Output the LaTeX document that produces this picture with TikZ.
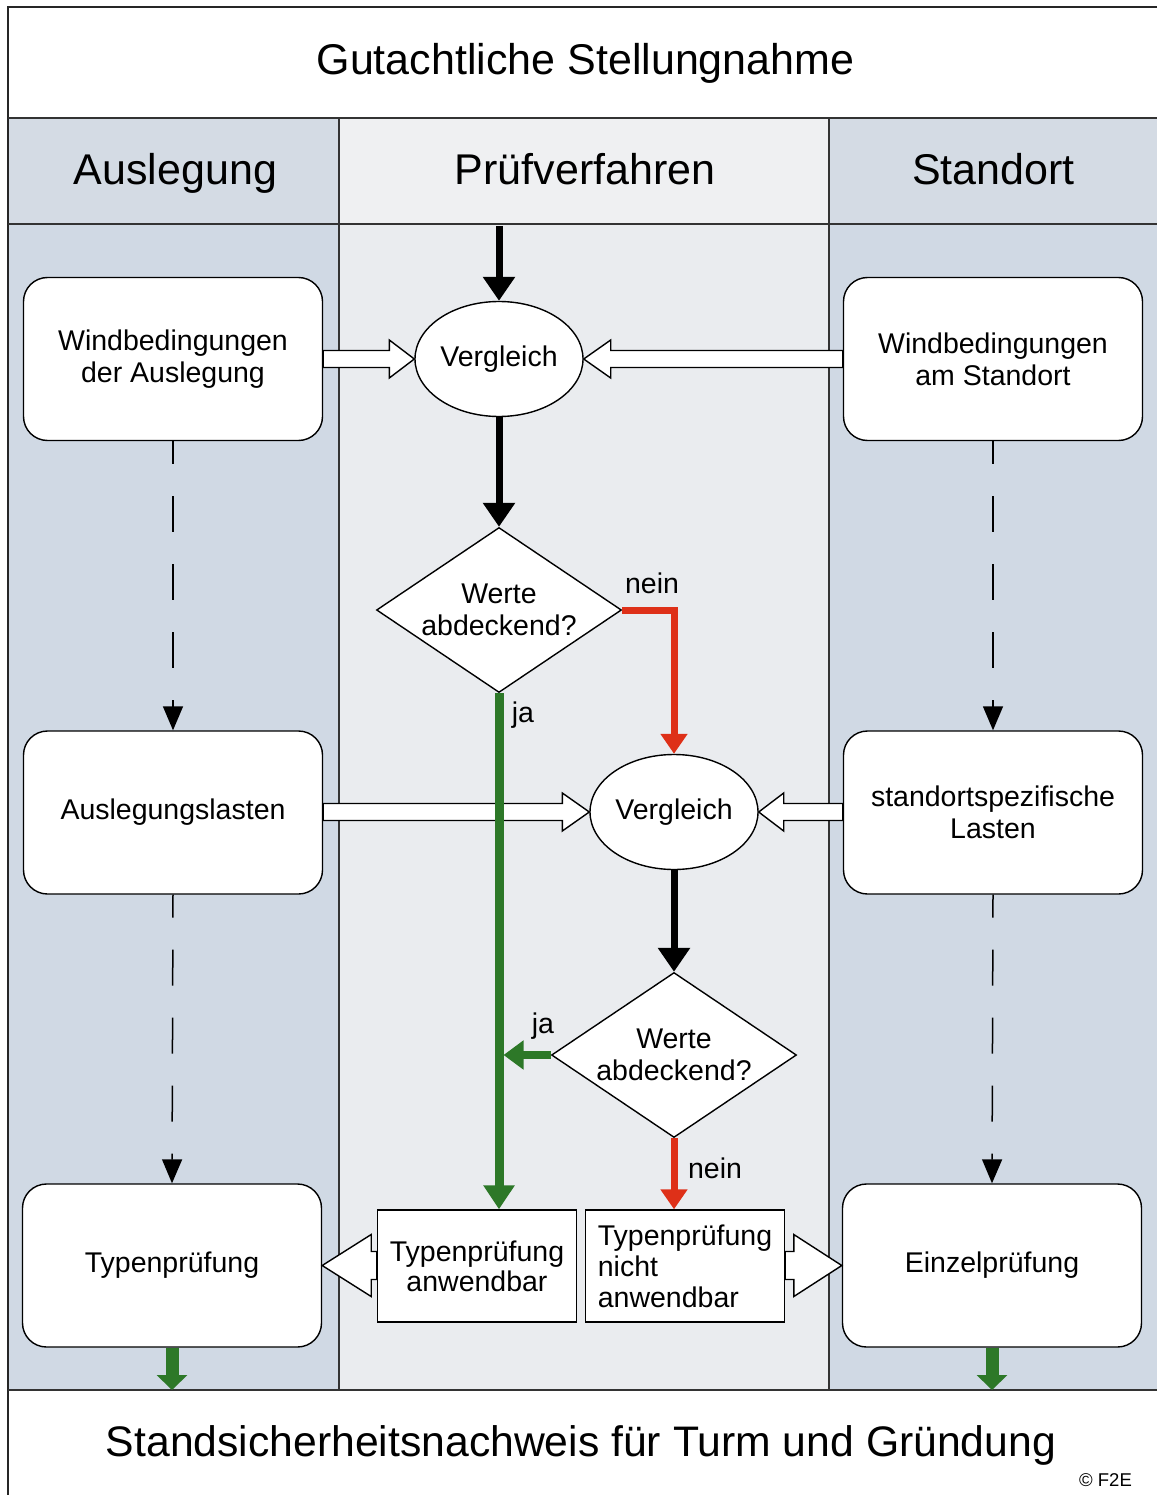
\documentclass[tikz,border=0pt]{standalone}
\usepackage{fontspec}
\setmainfont{Liberation Sans}
\usetikzlibrary{shapes.geometric,arrows.meta,calc}
\definecolor{sidebg}{RGB}{208,217,228}
\definecolor{midbg}{RGB}{234,236,239}
\definecolor{hdrside}{RGB}{212,219,228}
\definecolor{hdrmid}{RGB}{239,240,242}
\definecolor{okgreen}{RGB}{45,120,40}
\definecolor{nored}{RGB}{222,48,24}
% #1 start, #2 tip, #3 shaft half height, #4 head half height, #5 head base offset from tip (signed)
\newcommand{\blockarrow}[5]{%
  \draw[blockst] let \p1=(#1), \p2=(#2), \n1={\x2+(#5)} in
    ({\x1},{\y2+#3}) -- ({\n1},{\y2+#3}) -- ({\n1},{\y2+#4}) -- (\x2,\y2)
    -- ({\n1},{\y2-#4}) -- ({\n1},{\y2-#3}) -- ({\x1},{\y2-#3}) -- cycle;}
\begin{document}
\begin{tikzpicture}[x=1pt,y=-1pt,
  txt/.style={font=\fontsize{28.5}{32}\selectfont},
  box/.style={txt, draw, line width=1.4pt, fill=white, rounded corners=24pt,
    minimum width=299pt, minimum height=163pt, inner sep=0pt, align=center},
  cmp/.style={txt, ellipse, draw, line width=1.4pt, fill=white,
    minimum width=168pt, minimum height=115pt, inner sep=0pt},
  dec/.style={txt, diamond, draw, line width=1.4pt, fill=white, aspect=1.485,
    minimum width=245pt, minimum height=165pt, inner sep=0pt, align=center},
  rbox/.style={txt, draw, line width=1.4pt, fill=white,
    minimum width=199pt, minimum height=112pt, inner sep=0pt},
  hd/.style={font=\fontsize{43}{48}\selectfont, anchor=base, inner sep=0pt},
  lbl/.style={txt, anchor=base, inner sep=0pt},
  frame/.style={line width=2pt, black!85},
  divider/.style={line width=1.5pt, black!80},
  blockst/.style={draw, line width=1.4pt, fill=white, line join=miter},
  blk/.style={line width=7pt, -{Triangle[length=24pt,width=31pt]}},
  grn/.style={okgreen, line width=9pt, -{Triangle[length=24pt,width=30pt]}},
  grnfat/.style={okgreen, line width=13pt, -{Triangle[length=15pt,width=30pt]}},
  nogo/.style={nored, line width=7pt, -{Triangle[length=20pt,width=26pt]}},
  dashln/.style={line width=1.5pt, dash pattern=on 36pt off 32pt, dash phase=13pt,
    -{Triangle[length=24pt,width=20pt]}}
]
\useasboundingbox (0,0) rectangle (1157,1495);
\fill[white] (0,0) rectangle (1157,1495);
% backgrounds
\fill[hdrside] (8,118) rectangle (339,224);
\fill[hdrmid]  (339,118) rectangle (829,224);
\fill[hdrside] (829,118) rectangle (1157,224);
\fill[sidebg] (8,224) rectangle (339,1390);
\fill[midbg]  (339,224) rectangle (829,1390);
\fill[sidebg] (829,224) rectangle (1157,1390);
% frame lines
\draw[frame] (1157,7) -- (8,7) -- (8,1495);
\draw[divider] (8,118) -- (1157,118);
\draw[divider] (8,224) -- (1157,224);
\draw[divider] (8,1390) -- (1157,1390);
\draw[divider] (339,118) -- (339,1390);
\draw[divider] (829,118) -- (829,1390);
% titles
\node[hd] (title) at (585.5,75) {Gutachtliche Stellungnahme};
\node[hd] (hA) at (175.5,185) {Auslegung};
\node[hd] (hP) at (585,185) {Prüfverfahren};
\node[hd] (hS) at (993.5,185) {Standort};
\node[hd, font=\fontsize{42.7}{48}\selectfont] (foot) at (581,1456) {Standsicherheitsnachweis für Turm und Gründung};
\node[anchor=base, inner sep=0pt, font=\fontsize{18.5}{20}\selectfont] (copy) at (1105.5,1486) {© F2E};
% nodes
\node[box] (wa) at (173,359) {Windbedingungen\\der Auslegung};
\node[box] (ws) at (993,359) {Windbedingungen\\am Standort};
\node[box] (al) at (173,812.5) {Auslegungslasten};
\node[box] (sl) at (993,812.5) {standortspezifische\\Lasten};
\node[box] (tp) at (172,1265.5) {Typenprüfung};
\node[box] (ez) at (992,1265.5) {Einzelprüfung};
\node[cmp] (v1) at (499,359) {Vergleich};
\node[dec] (d1) at (499,610) {Werte\\abdeckend?};
\node[cmp] (v2) at (674,812) {Vergleich};
\node[dec] (d2) at (674,1055) {Werte\\abdeckend?};
\node[rbox, align=center, font=\fontsize{28.5}{30}\selectfont] (ta) at (477,1266) {Typenprüfung\\anwendbar};
\node[rbox, align=left, font=\fontsize{28.5}{31}\selectfont] (tn) at (685,1266) {Typenprüfung\\nicht\\anwendbar};
% coordinates for free ends
\coordinate (top) at (499,226);
\coordinate (botL) at (172,1390);
\coordinate (botR) at (992,1390);
% hollow block arrows
\blockarrow{wa.east}{v1.west}{8.5pt}{19pt}{-25pt}
\blockarrow{ws.west}{v1.east}{8.5pt}{19pt}{27pt}
\blockarrow{al.east}{v2.west}{8.5pt}{19pt}{-27pt}
\blockarrow{sl.west}{v2.east}{8.5pt}{19pt}{25pt}
\blockarrow{ta.west}{tp.east}{14pt}{31pt}{49pt}
\blockarrow{tn.east}{ez.west}{14pt}{31pt}{-48pt}
% dashed arrows
\draw[dashln] (wa.south) -- (al.north);
\draw[dashln] (al.south) -- (tp.north);
\draw[dashln] (ws.south) -- (sl.north);
\draw[dashln] (sl.south) -- (ez.north);
% black flow
\draw[blk] (top) -- (v1.north);
\draw[blk] (v1.south) -- (d1.north);
\draw[blk] (v2.south) -- (d2.north);
% decisions
\draw[nogo, line join=miter] (d1.east) -| (v2.north);
\draw[grn] (d1.south) -- (d1.south |- ta.north);
\draw[grn, line width=8pt, -{Triangle[length=20pt,width=28pt]}, shorten >=4.5pt] (d2.west) -- (d1.south |- d2.west);
\draw[nogo] (d2.south) -- (d2.south |- tn.north);
\draw[grnfat] (tp.south) -- (botL);
\draw[grnfat] (ez.south) -- (botR);
% labels
\node[lbl] (n1) at (652,593) {nein};
\node[lbl] (j1) at (523,722) {ja};
\node[lbl] (j2) at (543,1033) {ja};
\node[lbl] (n2) at (715,1178) {nein};
\end{tikzpicture}
\end{document}
